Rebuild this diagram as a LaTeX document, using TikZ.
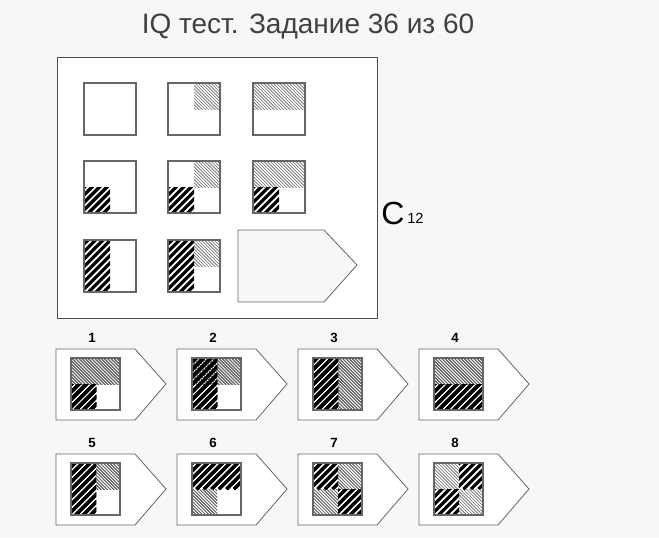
\documentclass[tikz,border=0pt]{standalone}
\usepackage{fontspec}
\setmainfont{Liberation Sans}
\begin{document}
\tikzset{
  frame/.style={draw=black!70, line width=0.7pt},
  cellbox/.style={draw=black!60, line width=0.9pt},
  badge/.style={draw=black!60, line width=0.6pt, fill=white},
  heavy/.style={line width=2.4pt, black},
  light/.style={line width=0.45pt, black!60},
  num/.style={font=\bfseries\fontsize{10}{12}\selectfont}
}
% heavy stripes in a box
\newcommand\hvy[4]{\begin{scope}\clip (#1,#2) rectangle (#3,#4);
  \foreach \k in {-63,-55.5,...,63} \draw[heavy] ({#1+\k},#4) -- ++(80,-80);\end{scope}}
% light stripes in a box
\newcommand\lgt[4]{\begin{scope}\clip (#1,#2) rectangle (#3,#4);
  \foreach \k in {-60,-56.8,...,60} \draw[light] ({#1+\k},#2) -- ++(80,80);\end{scope}}
% answer badge with number
\newcommand\badge[3]{\draw[badge] (#1,#2) -- ++(79,0) -- ++(31,35) -- ++(-31,36) -- ++(-79,0) -- cycle;
  \node[num] (n#3) at (#1+36,#2-11) {#3};}
\begin{tikzpicture}[x=0.75pt, y=-0.75pt]
  \fill[white!97!black] (0,0) rectangle (659,537);
  \fill[white] (57,57) rectangle (377,318);

  % Title
  \node[text=black!75, font=\fontsize{21}{24}\selectfont] (title) at (308,27) {IQ тест. Задание 36 из 60};
  \node[font=\fontsize{24}{26}\selectfont] (lbl) at (393,213) {C};
  \node[font=\fontsize{11}{12}\selectfont, anchor=west] (sub) at (lbl.east) [yshift=-4pt, xshift=-5pt] {12};

  % Matrix
  \draw[frame] (57,57) rectangle (377,318);
  \lgt{194}{83}{221}{109}
  \lgt{253}{83}{306}{109}
  \hvy{84}{187}{110}{213}
  \lgt{194}{161}{221}{187} \hvy{168}{187}{194}{213}
  \lgt{253}{161}{306}{187} \hvy{253}{187}{279}{213}
  \hvy{84}{240}{110}{292}
  \lgt{194}{240}{221}{266} \hvy{168}{240}{194}{292}
  \foreach \x/\y in {84/83,168/83,253/83,84/161,168/161,253/161,84/240,168/240}
    \draw[cellbox] (\x,\y) rectangle ++(52,52);
  \draw[badge, fill=white!97!black] (238,230) -- (324,230) -- (357,265) -- (324,302) -- (238,302) -- cycle;

  % Answers
  \foreach \i/\x/\y in {1/56/349,2/177/349,3/298/349,4/419/349,5/56/454,6/177/454,7/298/454,8/419/454}
    \badge{\x}{\y}{\i}
  % 1
  \lgt{71}{358}{120}{384} \hvy{71}{384}{96}{410}
  % 2
  \lgt{192}{358}{241}{384} \hvy{192}{358}{217}{410}
  % 3
  \hvy{313}{358}{338}{410} \lgt{338}{358}{362}{410}
  % 4
  \lgt{434}{358}{483}{384} \hvy{434}{384}{483}{410}
  % 5
  \hvy{71}{463}{96}{515} \lgt{96}{463}{120}{489}
  % 6
  \hvy{192}{463}{241}{489} \lgt{192}{489}{217}{515}
  % 7
  \hvy{313}{463}{338}{489} \lgt{338}{463}{362}{489}
  \lgt{313}{489}{338}{515} \hvy{338}{489}{362}{515}
  % 8
  \lgt{434}{463}{459}{489} \hvy{459}{463}{483}{489}
  \hvy{434}{489}{459}{515} \lgt{459}{489}{483}{515}
  \foreach \x/\y in {71/358,192/358,313/358,434/358,71/463,192/463,313/463,434/463}
    \draw[cellbox] (\x,\y) rectangle ++(49,52);
\end{tikzpicture}
\end{document}
